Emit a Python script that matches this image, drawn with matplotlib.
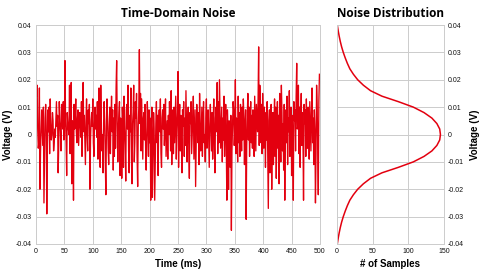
import numpy as np
import matplotlib
matplotlib.use("Agg")
import matplotlib.pyplot as plt

# ---- data ----
# time-domain noise, in millivolts, one sample per ms
noise_mv = [
    19, 14, 18, 2, -5, -3, 17, -20, -6, 1,
    9, 2, -4, 10, -25, -8, 6, 11, 3, -29,
    -4, 9, 1, 10, -7, 13, 4, -2, 0, 8,
    5, -6, -3, 2, -1, 6, 12, 3, 7, -14,
    -4, 12, 5, 1, -6, 11, 9, 2, 12, -2,
    3, 27, 6, -3, -15, 8, 4, 2, 0, 18,
    -7, 4, 19, -18, 5, 3, -24, 11, 2, 6,
    13, 1, -3, 6, 9, -4, 2, 8, 5, -1,
    12, -8, 3, 19, 1, 7, -2, -11, 5, 13,
    0, -6, 9, 4, 11, -20, -2, 5, 8, 3,
    13, -3, -8, 4, 10, 2, 7, -1, 12, -9,
    0, 17, 6, -12, 18, 3, -6, 0, -14, 4,
    12, 5, -10, -22, 2, 13, 6, -5, -11, 3,
    10, -7, 5, 14, 1, 9, -13, 6, -8, 11,
    -5, 17, 27, 4, -10, 2, 8, 12, -15, 6,
    -3, -16, 10, 5, -12, 14, 3, -4, -17, 9,
    11, 2, 18, -6, -14, 7, 1, 17, -9, -18,
    4, 8, 18, -10, -3, 12, 6, 15, -8, -19,
    3, 10, 31, 4, 15, -6, 13, 2, -9, 6,
    8, -2, 11, -5, -13, 0, 12, 4, -8, 9,
    -3, 6, -24, 3, 10, -23, -6, 8, 2, -24,
    -10, 4, 12, -3, 7, -15, 5, 9, 1, 13,
    -7, -12, 6, 9, 2, 11, -4, 3, 13, -8,
    -2, 5, -9, 7, 0, 12, 4, -6, 16, -11,
    3, 9, -7, 10, -3, 6, 14, -9, 2, 8,
    23, -12, 5, 11, -6, 7, -2, -14, 9, 3,
    12, -8, 6, -4, 16, 2, -10, 3, 10, -5,
    -16, 8, 4, 12, -7, -1, 6, 14, -9, 0,
    9, -19, -4, 11, 5, -3, 8, -11, 15, 3,
    -6, 2, 10, -8, 5, 12, -3, 0, -10, 6,
    13, -5, 7, 9, -2, -12, 4, 11, 2, -6,
    8, -9, 5, 13, -4, -14, 6, 10, 1, 19,
    -7, 12, -3, 20, 8, -5, 3, 10, -10, 6,
    -2, 14, -8, 4, 11, -4, -24, 9, 2, -20,
    5, 0, -12, 7, -35, -6, 3, 12, 9, -4,
    1, 20, -7, 6, 2, -10, 14, -3, 8, -8,
    11, 4, -6, 10, -2, 13, 6, -11, 3, 9,
    -31, -4, 7, 15, -2, 10, -8, 5, 12, -3,
    7, -5, 9, 2, -8, 14, 4, -6, 11, 6,
    1, 13, 32, -4, 18, 9, -3, 11, -7, 15,
    6, -5, 10, 3, -12, 8, -2, 12, -9, -27,
    5, 9, -14, 6, 11, -20, 2, 8, -11, 4,
    13, -8, 10, -16, 3, 12, -5, 7, -18, 15,
    1, -10, 18, 8, -6, 4, -13, 11, -24, 2,
    9, -3, 14, -11, 6, 1, 16, -8, 4, 10,
    -15, 7, -2, -24, 12, 5, 9, -6, 14, 26,
    2, 3, 18, -7, 10, -12, 6, 15, -4, 8,
    -1, -24, 11, 4, 9, -8, 13, 1, -5, 10,
    5, -9, 12, 3, -6, 8, 17, -3, 6, -11,
    9, 2, -25, -7, 18, 10, -4, -22, 12, 22,
]

# noise distribution: voltage levels (V) and sample counts
dist_voltage = [-0.040, -0.038, -0.036, -0.034, -0.032, -0.030, -0.028, -0.026,
                -0.024, -0.022, -0.020, -0.018, -0.016, -0.014, -0.012, -0.010,
                -0.008, -0.006, -0.004, -0.002, 0.000, 0.002, 0.004, 0.006,
                0.008, 0.010, 0.012, 0.014, 0.016, 0.018, 0.020, 0.022,
                0.024, 0.026, 0.028, 0.030, 0.032, 0.034, 0.036, 0.038, 0.040]
dist_counts = [0.4, 1.6, 3.0, 4.6, 6.5, 8.8, 11.5, 14.5,
               18, 23, 29, 37, 47, 63, 86, 107,
               122, 133, 140, 144, 145, 144, 140, 133,
               122, 107, 86, 63, 47, 37, 29, 23,
               18, 14.5, 11.5, 8.8, 6.5, 4.6, 3.0, 1.6, 0.4]

volt_ticks = [-0.04, -0.03, -0.02, -0.01, 0.0, 0.01, 0.02, 0.03, 0.04]
volt_tick_labels = ["-0.04", "-0.03", "-0.02", "-0.01", "0", "0.01", "0.02", "0.03", "0.04"]
time_ticks = [0, 50, 100, 150, 200, 250, 300, 350, 400, 450, 500]
count_ticks = [0, 50, 100, 150]

# ---- figure ----
W, H = 480, 276
fig = plt.figure(figsize=(W / 100, H / 100), dpi=100)
fig.patch.set_facecolor("white")

RED = "#e3000f"
GRID = "#cccccc"
tick_font = dict(family=["Liberation Sans Narrow", "Liberation Sans", "DejaVu Sans"], size=5)
label_font = dict(family=["Liberation Sans", "DejaVu Sans"], size=7, weight="bold")
title_font = dict(family=["Open Sans", "DejaVu Sans"], size=8.5, weight="bold")

def px(x0, y0, x1, y1):
    return [x0 / W, 1 - y1 / H, (x1 - x0) / W, (y1 - y0) / H]

ax1 = fig.add_axes(px(36, 25, 320, 244))
ax2 = fig.add_axes(px(337, 25, 444, 244))

volts = np.array(noise_mv) / 1000.0
t = np.arange(len(volts))
ax1.plot(t, volts, color=RED, lw=0.95)
ax1.set_xlim(0, 500)
ax1.set_ylim(-0.04, 0.04)
ax1.set_xticks(time_ticks)
ax1.set_xticklabels([str(v) for v in time_ticks], **tick_font)
ax1.set_yticks(volt_ticks)
ax1.set_yticklabels(volt_tick_labels, **tick_font)
ax1.set_xlabel("Time (ms)", labelpad=3, **label_font)
ax1.set_ylabel("Voltage (V)", labelpad=2, **label_font)
ax1.set_title("Time-Domain Noise", pad=6, **title_font)

ax2.plot(dist_counts, dist_voltage, color=RED, lw=1.1)
ax2.set_xlim(0, 150)
ax2.set_ylim(-0.04, 0.04)
ax2.set_xticks(count_ticks)
ax2.set_xticklabels([str(v) for v in count_ticks], **tick_font)
ax2.set_yticks(volt_ticks)
ax2.set_yticklabels(volt_tick_labels, **tick_font)
ax2.yaxis.tick_right()
ax2.yaxis.set_label_position("right")
ax2.set_xlabel("# of Samples", labelpad=3, **label_font)
ax2.set_ylabel("Voltage (V)", labelpad=4, **label_font)
ax2.set_title("Noise Distribution", pad=6, **title_font)

for ax in (ax1, ax2):
    ax.grid(True, color=GRID, lw=0.7)
    ax.set_axisbelow(True)
    ax.tick_params(length=0, pad=3, colors="#111111")
    for s in ax.spines.values():
        s.set_color(GRID)
        s.set_linewidth(0.7)

fig.savefig("out.png", dpi=100)
